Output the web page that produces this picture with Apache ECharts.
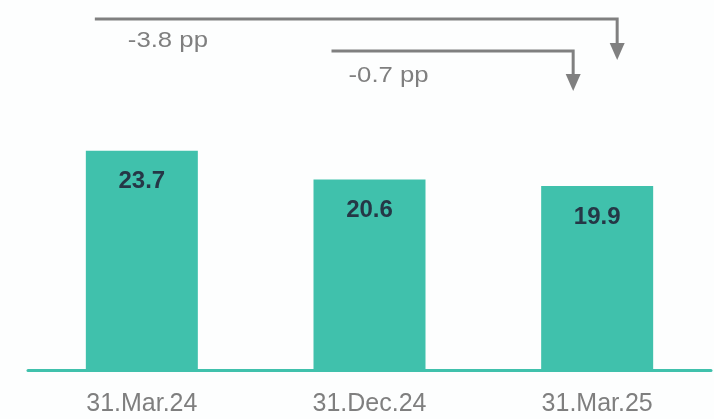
<!DOCTYPE html>
<html>
<head>
<meta charset="utf-8">
<script src="https://cdn.jsdelivr.net/npm/echarts@6/dist/echarts.min.js"></script>
<style>
html,body{margin:0;padding:0;background:#fdfefe;}
#c{width:714px;height:419px;}
</style>
</head>
<body>
<div id="c"></div>
<script>
const categories = ['31.Mar.24', '31.Dec.24', '31.Mar.25'];
const values = [23.7, 20.6, 19.9];
const changeFrom = [0, 1];
const changeTo = [2, 2];
const changeLabels = ['-3.8 pp', '-0.7 pp'];

const FONT = '"Liberation Sans", Arial, sans-serif';
const TEAL = '#40c1ac';
const GREY = '#808080';

const chart = echarts.init(document.getElementById('c'), null, {renderer: 'canvas'});
chart.setOption({
  backgroundColor: '#fdfefe',
  animation: false,
  grid: {left: 28, right: 3, top: 0, bottom: 49},
  xAxis: {
    type: 'category',
    data: categories,
    axisLine: {show: true, lineStyle: {color: TEAL, width: 3}},
    axisTick: {show: false},
    axisLabel: {color: '#7f7f7f', fontSize: 25, fontFamily: FONT, margin: 22}
  },
  yAxis: {
    type: 'value', min: 0, max: 40,
    show: false, splitLine: {show: false}
  },
  series: [{
    type: 'bar',
    data: values,
    barWidth: 112,
    itemStyle: {color: TEAL},
    label: {
      show: true, position: 'insideTop', distance: 19,
      color: '#253746', fontSize: 24, fontWeight: 'bold', fontFamily: FONT,
      formatter: p => p.value.toFixed(1)
    }
  }]
});

// arrow annotations, anchored on the category positions
const styleCfg = [
  {startOff: -47, endOff: 20, lineY: 19, tipY: 60, labelOff: 33, labelY: 41},
  {startOff: -38, endOff: -24, lineY: 51, tipY: 91, labelOff: 17, labelY: 76}
];
const graphics = [];
changeLabels.forEach((txt, i) => {
  const s = styleCfg[i];
  const x0 = chart.convertToPixel({xAxisIndex: 0}, changeFrom[i]) + s.startOff;
  const x1 = chart.convertToPixel({xAxisIndex: 0}, changeTo[i]) + s.endOff;
  const headH = 17, headW = 15;
  graphics.push({
    type: 'polyline',
    shape: {points: [[x0, s.lineY], [x1, s.lineY], [x1, s.tipY - headH + 1]]},
    style: {stroke: GREY, lineWidth: 3, fill: null}
  });
  graphics.push({
    type: 'polygon',
    shape: {points: [[x1 - headW / 2, s.tipY - headH], [x1 + headW / 2, s.tipY - headH], [x1, s.tipY]]},
    style: {fill: GREY}
  });
  graphics.push({
    type: 'text',
    x: x0 + s.labelOff, y: s.labelY,
    scaleX: 1.17,
    style: {text: txt, fill: '#7f7f7f', font: '22px ' + FONT, verticalAlign: 'middle'}
  });
});
chart.setOption({graphic: graphics});
</script>
</body>
</html>
